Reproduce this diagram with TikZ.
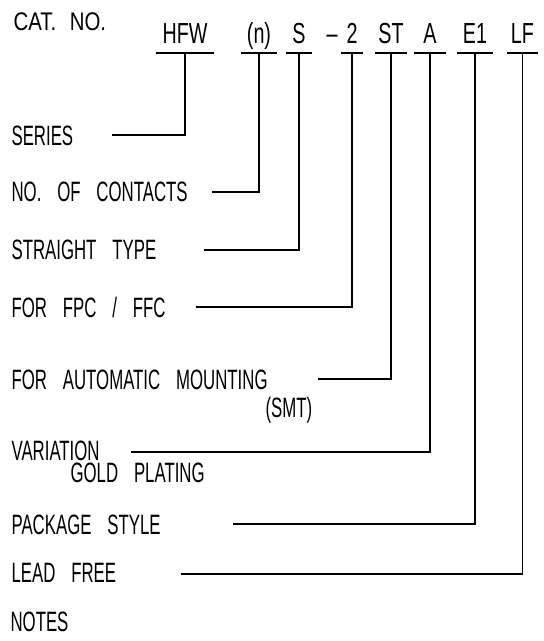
\documentclass[tikz,border=0pt]{standalone}
\usepackage{fontspec}
\setmainfont{Liberation Sans}[FakeStretch=0.6,WordSpace=3.4]
\newfontfamily\codefont{Liberation Sans}[FakeStretch=0.68]
\newfontfamily\catfont{Liberation Sans}[FakeStretch=0.8,WordSpace=2.4]
\usetikzlibrary{calc}

\begin{document}
\begin{tikzpicture}[x=1pt,y=-1pt,line width=1.1pt,
		code/.style={anchor=south,inner xsep=0pt,inner ysep=9pt,text depth=0pt,font=\codefont\fontsize{29}{32}\selectfont},
		lbl/.style={anchor=west,inner sep=0pt,text height=19.3pt,text depth=0pt,font=\fontsize{28}{32}\selectfont}]
		\useasboundingbox (0,0) rectangle (544,641);
		% catalogue number
		\node [lbl,text height=17.5pt,font=\catfont\fontsize{25.5}{30}\selectfont] (catno) at (13,21.5) {CAT. NO.};
		\node [code,minimum width=57pt] (hfw) at (185,53) {HFW};
		\node [code,minimum width=34pt] (n) at (259,53) {(n)};
		\node [code,minimum width=25pt] (s) at (299,53) {S};
		\node [code] (dash) at (332,53) {–};
		\node [code,minimum width=20pt] (two) at (352,53) {2};
		\node [code,minimum width=30pt] (st) at (391,53) {ST};
		\node [code,minimum width=30pt] (a) at (430,53) {A};
		\node [code,minimum width=34pt] (eone) at (475,53) {E1};
		\node [code,minimum width=30pt] (lf) at (522.5,53) {LF};
		\foreach \p in {hfw,n,s,two,st,a,eone,lf}
			\draw (\p.south west) -- (\p.south east);
		% meanings
		\node [lbl] (series) at (11,136) {SERIES};
		\node [lbl] (contacts) at (11,192) {NO. OF CONTACTS};
		\node [lbl] (straight) at (11,250) {STRAIGHT TYPE};
		\node [lbl] (fpc) at (11,308) {FOR FPC / FFC};
		\node [lbl] (smt) at (11,380) {FOR AUTOMATIC MOUNTING};
		\node [lbl] (smtb) at (265,408) {(SMT)};
		\node [lbl] (variation) at (11,451) {VARIATION};
		\node [lbl] (gold) at (70,472.5) {GOLD PLATING};
		\node [lbl] (package) at (11,524.5) {PACKAGE STYLE};
		\node [lbl] (leadfree) at (11,572.5) {LEAD FREE};
		\node [lbl] (notes) at (10,622) {NOTES};
		\coordinate (series-in) at (112,135);
		\coordinate (contacts-in) at (212,192);
		\coordinate (straight-in) at (204,250);
		\coordinate (fpc-in) at (196,307);
		\coordinate (smt-in) at (318,379);
		\coordinate (variation-in) at (131,452);
		\coordinate (package-in) at (233,524);
		\coordinate (leadfree-in) at (181,574);
		\foreach \l/\p in {series/hfw,contacts/n,straight/s,fpc/two,smt/st,variation/a,package/eone,leadfree/lf}
			\draw (\l-in) -- (\l-in -| \p.south) -- (\p.south);
	\end{tikzpicture}
\end{document}
